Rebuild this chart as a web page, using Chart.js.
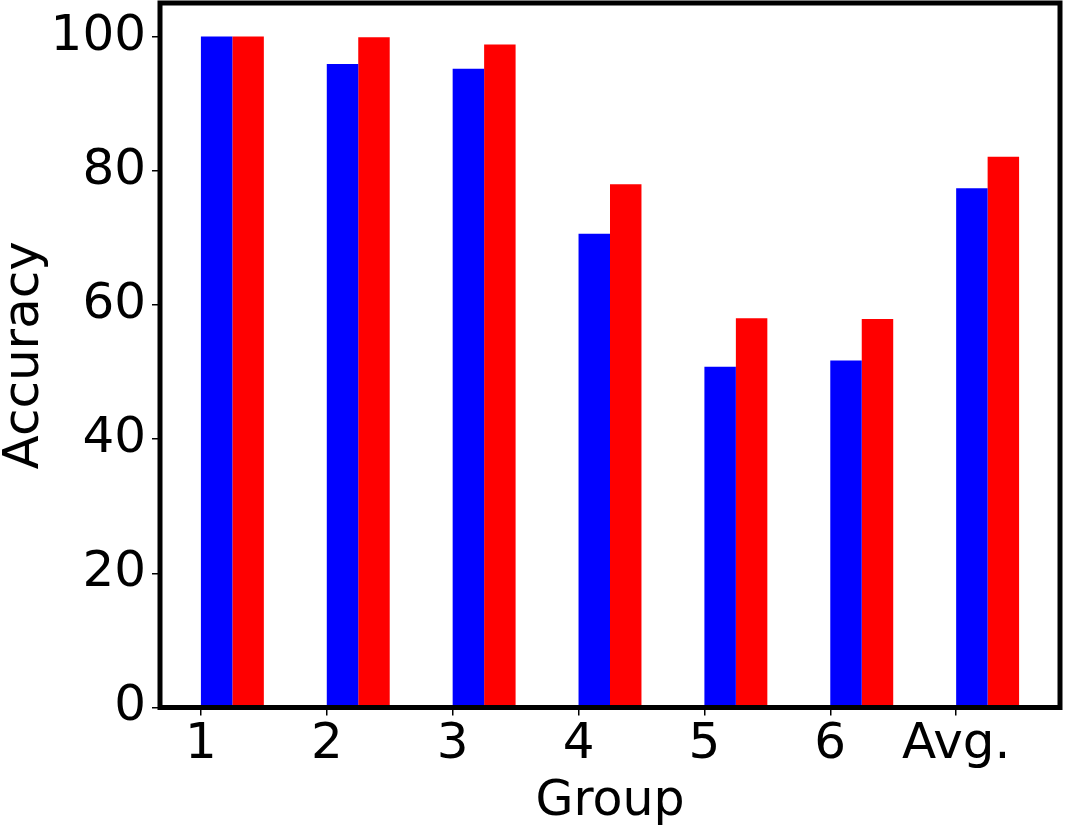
<!DOCTYPE html>
<html>
<head>
<meta charset="utf-8">
<script src="https://cdn.jsdelivr.net/npm/chart.js@4"></script>
<style>
    html, body { margin: 0; padding: 0; background: #fff; }
    #wrap { width: 1066px; height: 830px; }
</style>
</head>
<body>
<div id="wrap"><canvas id="chart" width="1066" height="830"></canvas></div>
<script>
// Data
const groups = ['1', '2', '3', '4', '5', '6', 'Avg.'];
const groupPos = [1, 2, 3, 4, 5, 6, 7];
const blueValues = [100, 95.9, 95.2, 70.6, 50.8, 51.7, 77.4];
const redValues = [100, 99.9, 98.8, 78.0, 58.0, 57.9, 82.1];
const yTicks = [0, 20, 40, 60, 80, 100];

const FONT = 'DejaVu Sans';

// Draw the thick black frame round the plot area
const framePlugin = {
    id: 'frame',
    afterDatasetsDraw(chart) {
        const { ctx, chartArea: a } = chart;
        ctx.save();
        ctx.strokeStyle = '#000';
        ctx.lineWidth = 5;
        ctx.strokeRect(a.left, a.top, a.right - a.left, a.bottom - a.top);
        ctx.restore();
    }
};

// bars sit right of the tick: blue [x, x+0.25], red [x+0.25, x+0.5]
const points = vals => vals.map((v, i) => ({ x: groupPos[i] + 0.25, y: v }));

const tickGrid = {
    offset: false,
    drawOnChartArea: false,
    drawTicks: true,
    tickLength: 8,
    lineWidth: 1.5,
    color: '#000'
};

const ctx = document.getElementById('chart').getContext('2d');
new Chart(ctx, {
    type: 'bar',
    data: {
        datasets: [
            {
                label: 'A',
                data: points(blueValues),
                backgroundColor: '#0000ff',
                borderWidth: 0,
                barPercentage: 1,
                categoryPercentage: 0.5
            },
            {
                label: 'B',
                data: points(redValues),
                backgroundColor: '#ff0000',
                borderWidth: 0,
                barPercentage: 1,
                categoryPercentage: 0.5
            }
        ]
    },
    options: {
        responsive: false,
        animation: false,
        layout: { padding: { top: 3, right: 6, left: 0, bottom: 0 } },
        plugins: {
            legend: { display: false },
            tooltip: { enabled: false }
        },
        scales: {
            x: {
                type: 'linear',
                min: 0.675,
                max: 7.825,
                offset: false,
                afterBuildTicks: s => { s.ticks = groupPos.map(v => ({ value: v })); },
                afterFit: s => {
                    s.height = 122.5;
                    s.paddingLeft = 0;
                    s.paddingRight = 0;
                },
                ticks: {
                    color: '#000',
                    padding: 0,
                    maxRotation: 0,
                    font: { family: FONT, size: 50 },
                    callback: v => groups[groupPos.indexOf(v)]
                },
                grid: tickGrid,
                border: { display: false },
                title: {
                    display: true,
                    text: 'Group',
                    color: '#000',
                    font: { family: FONT, size: 49, lineHeight: 1 },
                    padding: { top: 0, bottom: 3 }
                }
            },
            y: {
                min: 0,
                max: 105,
                afterBuildTicks: s => { s.ticks = yTicks.map(v => ({ value: v })); },
                afterFit: s => {
                    s.width = 160;
                    s.paddingTop = 0;
                    s.paddingBottom = 0;
                },
                ticks: {
                    color: '#000',
                    padding: 6,
                    font: { family: FONT, size: 50 }
                },
                grid: tickGrid,
                border: { display: false },
                title: {
                    display: true,
                    text: 'Accuracy',
                    color: '#000',
                    font: { family: FONT, size: 50, lineHeight: 1 },
                    padding: { top: 0, bottom: 0 }
                }
            }
        }
    },
    plugins: [framePlugin]
});
</script>
</body>
</html>
